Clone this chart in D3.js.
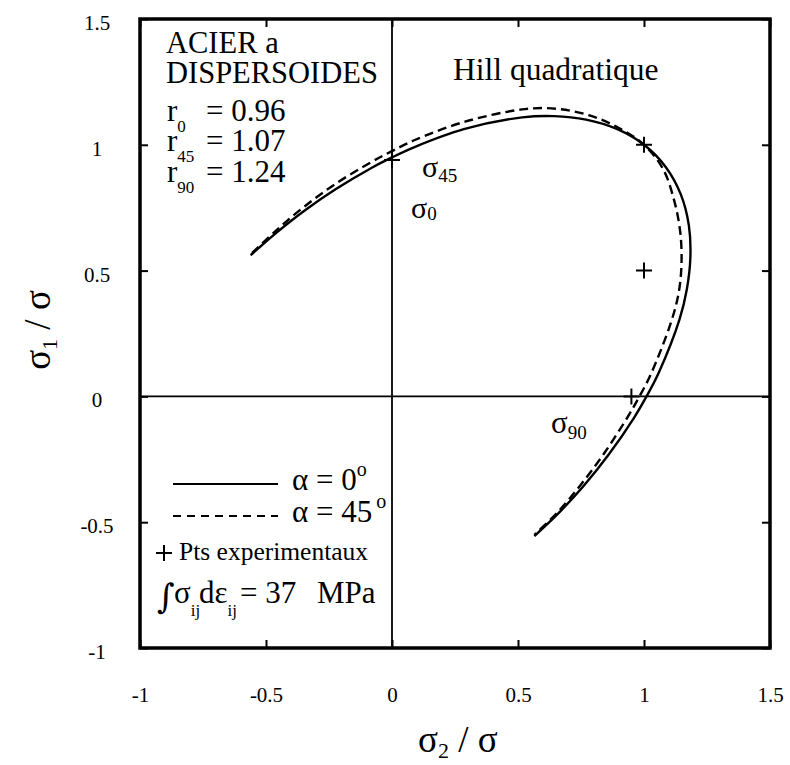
<!DOCTYPE html>
<html>
<head>
<meta charset="utf-8">
<script src="https://cdn.jsdelivr.net/npm/d3@7"></script>
<style>
  html, body { margin: 0; padding: 0; background: #fff; }
  svg { display: block; font-family: "Liberation Serif", "Times New Roman", serif; }
</style>
</head>
<body>
<svg id="chart" width="790" height="765"></svg>
<script>
// ---- data ----
const xTicks = [-1, -0.5, 0, 0.5, 1, 1.5];
const yTicks = [-1, -0.5, 0, 0.5, 1, 1.5];
const xTickLabels = ["-1", "-0.5", "0", "0.5", "1", "1.5"];
const yTickLabels = ["-1", "-0.5", "0", "0.5", "1", "1.5"];

// alpha = 0 deg (solid)   [sigma2/sigma, sigma1/sigma]
const alpha0 = [
  [-0.561, 0.561], [-0.457, 0.652], [-0.345, 0.740], [-0.221, 0.825],
  [-0.080, 0.909], [0.000, 0.950], [0.087, 0.990], [0.285, 1.062],
  [0.517, 1.109], [0.643, 1.114], [0.770, 1.100], [0.892, 1.063],
  [1.000, 1.000], [1.086, 0.912], [1.146, 0.803], [1.178, 0.680],
  [1.184, 0.552], [1.170, 0.426], [1.141, 0.306], [1.058, 0.093],
  [1.010, 0.000], [0.961, -0.084], [0.860, -0.231], [0.761, -0.355],
  [0.662, -0.463], [0.565, -0.555]
];
// alpha = 45 deg (dashed)
const alpha45 = [
  [-0.555, 0.570], [-0.457, 0.662], [-0.347, 0.755], [-0.224, 0.845],
  [-0.081, 0.932], [0.000, 0.975], [0.088, 1.018], [0.290, 1.092],
  [0.527, 1.142], [0.655, 1.143], [0.780, 1.118], [0.895, 1.070],
  [1.000, 1.000], [1.075, 0.905], [1.118, 0.785], [1.143, 0.660],
  [1.149, 0.535], [1.138, 0.414], [1.108, 0.297], [1.028, 0.090],
  [0.982, 0.000], [0.935, -0.082], [0.842, -0.226], [0.750, -0.350],
  [0.658, -0.460], [0.565, -0.550]
];
// experimental points
const expPoints = [[0, 0.94], [1, 1], [1, 0.5], [0.95, 0]];

// ---- layout ----
const svg = d3.select("#chart");
const L = 140, R = 770, T = 19, B = 648;
const x = d3.scaleLinear().domain([-1, 1.5]).range([L, R]);
const y = d3.scaleLinear().domain([-1, 1.5]).range([B, T]);

// zero lines
svg.append("line").attr("x1", x(0)).attr("x2", x(0)).attr("y1", T).attr("y2", B)
  .attr("stroke", "#000").attr("stroke-width", 1.8);
svg.append("line").attr("x1", L).attr("x2", R).attr("y1", y(0)).attr("y2", y(0))
  .attr("stroke", "#000").attr("stroke-width", 1.8);

// axes
const fmtX = d => xTickLabels[xTicks.indexOf(d)];
const fmtY = d => yTickLabels[yTicks.indexOf(d)];

const gB = svg.append("g").attr("transform", `translate(0,${B})`)
  .call(d3.axisBottom(x).tickValues(xTicks).tickFormat(fmtX).tickSize(-8).tickSizeOuter(0).tickPadding(39));
const gT = svg.append("g").attr("transform", `translate(0,${T})`)
  .call(d3.axisTop(x).tickValues(xTicks).tickFormat("").tickSize(-8).tickSizeOuter(0));
const gL = svg.append("g").attr("transform", `translate(${L},0)`)
  .call(d3.axisLeft(y).tickValues(yTicks).tickFormat(fmtY).tickSize(-8).tickSizeOuter(0).tickPadding(43));
const gR = svg.append("g").attr("transform", `translate(${R},0)`)
  .call(d3.axisRight(y).tickValues(yTicks).tickFormat("").tickSize(-8).tickSizeOuter(0));

[gB, gT, gL, gR].forEach(g => {
  g.select(".domain").remove();
  g.selectAll(".tick line").attr("stroke", "#000").attr("stroke-width", 2);
  g.selectAll(".tick text").attr("fill", "#000")
    .style("font-family", "'Liberation Serif', serif").style("font-size", "21px");
});
gL.selectAll(".tick text").attr("text-anchor", "middle").attr("dy", "0.5em");

// frame
svg.append("rect").attr("x", L).attr("y", T).attr("width", R - L).attr("height", B - T)
  .attr("fill", "none").attr("stroke", "#000").attr("stroke-width", 3.5);

// curves
const line = d3.line().x(d => x(d[0])).y(d => y(d[1])).curve(d3.curveCatmullRom.alpha(0.5));
svg.append("path").datum(alpha0).attr("d", line)
  .attr("fill", "none").attr("stroke", "#000").attr("stroke-width", 2.4);
svg.append("path").datum(alpha45).attr("d", line)
  .attr("fill", "none").attr("stroke", "#000").attr("stroke-width", 2.4)
  .attr("stroke-dasharray", "9,5");

// experimental crosses
const crossPath = "M-8,0H8M0,-8V8";
svg.selectAll("path.exp").data(expPoints).enter().append("path").attr("class", "exp")
  .attr("d", crossPath).attr("transform", d => `translate(${x(d[0])},${y(d[1])})`)
  .attr("stroke", "#000").attr("stroke-width", 2).attr("fill", "none");

// ---- annotations ----
const txt = (tx, ty, size) => svg.append("text").attr("x", tx).attr("y", ty)
  .attr("fill", "#000").style("font-size", size + "px");

txt(166, 53, 30.5).text("ACIER a");
txt(166, 83, 30.5).text("DISPERSOIDES");

const rLines = [["0", "= 0.96", 121], ["45", "= 1.07", 151], ["90", "= 1.24", 182]];
rLines.forEach(([sub, val, by]) => {
  const t = txt(167, by, 31);
  t.append("tspan").text("r");
  t.append("tspan").attr("dy", 11).style("font-size", "17px").text(sub);
  t.append("tspan").attr("x", 206).attr("y", by).text(val);
});

txt(453, 80, 31.5).text("Hill quadratique");

// sigma labels
function sigmaLabel(sx, sy, sub, size, subSize, subDy) {
  const t = txt(sx, sy, size);
  t.append("tspan").text("σ");
  t.append("tspan").attr("dy", subDy).style("font-size", subSize + "px").text(sub);
  return t;
}
sigmaLabel(422, 177, "45", 30, 19, 5);
sigmaLabel(411, 218, "0", 30, 19, 2);
sigmaLabel(551, 433, "90", 31, 19, 6);

// legend
svg.append("line").attr("x1", 173).attr("x2", 278).attr("y1", 484).attr("y2", 484)
  .attr("stroke", "#000").attr("stroke-width", 2.2);
svg.append("line").attr("x1", 173).attr("x2", 278).attr("y1", 516).attr("y2", 516)
  .attr("stroke", "#000").attr("stroke-width", 2.2).attr("stroke-dasharray", "8,6");
{
  const t = txt(292, 490, 31);
  t.append("tspan").text("α = 0");
  t.append("tspan").attr("dy", -14).style("font-size", "20px").text("o");
}
{
  const t = txt(292, 522, 31);
  t.append("tspan").text("α = 45");
  t.append("tspan").attr("dx", 4).attr("dy", -14).style("font-size", "20px").text("o");
}
svg.append("path").attr("d", crossPath).attr("transform", "translate(164,553)")
  .attr("stroke", "#000").attr("stroke-width", 2).attr("fill", "none");
txt(179, 560, 25.5).text("Pts experimentaux");

// integral
txt(157, 608, 34).style("font-family", "'DejaVu Serif', serif").text("∫");
{
  const t = txt(174, 603, 31);
  t.append("tspan").text("σ");
  t.append("tspan").attr("dy", 13).style("font-size", "17px").text("ij");
  t.append("tspan").attr("x", 199).attr("y", 603).text("dε");
  t.append("tspan").attr("dy", 13).style("font-size", "17px").text("ij");
  t.append("tspan").attr("x", 240).attr("y", 603).text("= 37");
  t.append("tspan").attr("x", 317).attr("y", 603).text("MPa");
}

// axis titles
{
  const t = svg.append("text").attr("x", 418).attr("y", 752).attr("fill", "#000").style("font-size", "37px");
  t.append("tspan").text("σ");
  t.append("tspan").attr("dy", 6).style("font-size", "22px").text("2");
  t.append("tspan").attr("dy", -6).text(" / σ");
}
{
  const t = svg.append("text").attr("transform", "translate(50,330) rotate(-90)")
    .attr("text-anchor", "middle").attr("fill", "#000").style("font-size", "37px");
  t.append("tspan").text("σ");
  t.append("tspan").attr("dy", 7).style("font-size", "22px").text("1");
  t.append("tspan").attr("dy", -7).text(" / σ");
}
</script>
</body>
</html>
